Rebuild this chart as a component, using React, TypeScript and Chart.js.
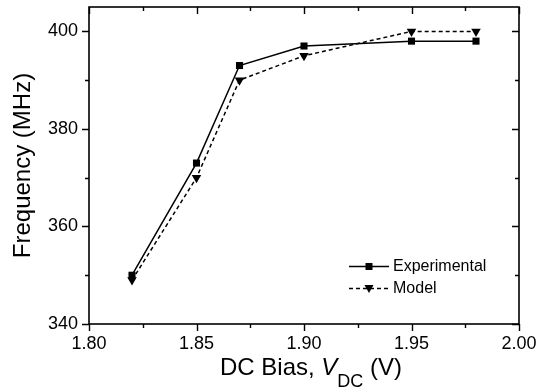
import React, { useEffect, useRef } from 'react';
import { Chart, registerables } from 'chart.js';

Chart.register(...registerables);

const biasV = [1.82, 1.85, 1.87, 1.9, 1.95, 1.98];
const experimentalMHz = [350, 373, 393, 397, 398, 398];
const modelMHz = [349, 370, 390, 395, 400, 400];
const xTickValues = [1.8, 1.85, 1.9, 1.95, 2.0];
const yTickValues = [340, 360, 380, 400];
const legendLabels = ['Experimental', 'Model'];
const yTitle = 'Frequency (MHz)';

const FONT = '"Liberation Sans", Arial, Helvetica, sans-serif';

const framePlugin = {
  id: 'frameTicks',
  afterDraw(chart: any) {
    const { ctx, chartArea, scales } = chart;
    const { left, right, top, bottom } = chartArea;
    const xs = scales.x;
    const ys = scales.y;
    ctx.save();
    ctx.strokeStyle = '#000';
    ctx.lineWidth = 1.6;
    ctx.strokeRect(left, top, right - left, bottom - top);
    ctx.lineWidth = 1.4;
    // x ticks (major 0.05, minor 0.025)
    for (let i = 0; i <= 8; i++) {
      const v = 1.8 + i * 0.025;
      const len = i % 2 === 0 ? 7 : 4;
      const px = Math.round(xs.getPixelForValue(v)) + 0.5;
      ctx.beginPath();
      ctx.moveTo(px, bottom);
      ctx.lineTo(px, bottom + len);
      ctx.moveTo(px, top);
      ctx.lineTo(px, top + len);
      ctx.stroke();
    }
    for (let i = 0; i <= 6; i++) {
      const v = 340 + i * 10;
      const len = i % 2 === 0 ? 7 : 4;
      const py = Math.round(ys.getPixelForValue(v)) + 0.5;
      ctx.beginPath();
      ctx.moveTo(left - len, py);
      ctx.lineTo(left, py);
      ctx.moveTo(right - len, py);
      ctx.lineTo(right, py);
      ctx.stroke();
    }

    // x title with italic V and subscript DC
    ctx.fillStyle = '#000';
    ctx.textBaseline = 'alphabetic';
    ctx.textAlign = 'left';
    let tx = 220;
    const base = 375;
    ctx.font = `24px ${FONT}`;
    ctx.fillText('DC Bias, ', tx, base);
    tx += ctx.measureText('DC Bias, ').width;
    ctx.font = `italic 24px ${FONT}`;
    ctx.fillText('V', tx, base);
    tx += ctx.measureText('V').width;
    ctx.font = `18px ${FONT}`;
    ctx.fillText('DC', tx, base + 12);
    tx += ctx.measureText('DC').width;
    ctx.font = `24px ${FONT}`;
    ctx.fillText(' (V)', tx, base);

    // legend
    const rows = [
      { y: 266, dash: [] as number[], shape: 'rect' },
      { y: 288, dash: [4, 3], shape: 'tri' },
    ];
    rows.forEach((r, idx) => {
      ctx.lineWidth = 1.5;
      ctx.setLineDash(r.dash);
      ctx.beginPath();
      ctx.moveTo(349, r.y + 0.5);
      ctx.lineTo(389, r.y + 0.5);
      ctx.stroke();
      ctx.setLineDash([]);
      ctx.beginPath();
      if (r.shape === 'rect') {
        ctx.rect(369 - 3.5, r.y - 3, 7, 7);
      } else {
        ctx.moveTo(369 - 4.5, r.y - 3);
        ctx.lineTo(369 + 4.5, r.y - 3);
        ctx.lineTo(369, r.y + 5);
        ctx.closePath();
      }
      ctx.fill();
      ctx.font = `16px ${FONT}`;
      ctx.textBaseline = 'middle';
      ctx.fillText(legendLabels[idx], 393, r.y + 1);
    });
    ctx.restore();
  },
};

export default function App() {
  const ref = useRef<HTMLCanvasElement | null>(null);
  useEffect(() => {
    if (!ref.current) return;
    const chart = new Chart(ref.current, {
      type: 'line',
      data: {
        datasets: [
          {
            label: legendLabels[0],
            data: biasV.map((x, i) => ({ x, y: experimentalMHz[i] })),
            borderColor: '#000',
            backgroundColor: '#000',
            borderWidth: 1.5,
            pointStyle: 'rect',
            pointRadius: 5,
            pointBorderWidth: 0,
            tension: 0,
          },
          {
            label: legendLabels[1],
            data: biasV.map((x, i) => ({ x, y: modelMHz[i] })),
            borderColor: '#000',
            backgroundColor: '#000',
            borderWidth: 1.5,
            borderDash: [4, 3],
            pointStyle: 'triangle',
            pointRotation: 180,
            pointRadius: 5.5,
            pointBorderWidth: 0,
            tension: 0,
          },
        ],
      },
      options: {
        responsive: false,
        animation: false,
        layout: { padding: { top: 7, right: 19, left: 0, bottom: 0 } },
        plugins: { legend: { display: false }, tooltip: { enabled: false } },
        scales: {
          x: {
            type: 'linear',
            min: 1.8,
            max: 2.0,
            afterBuildTicks: (s: any) => {
              s.ticks = xTickValues.map((v) => ({ value: v }));
            },
            ticks: {
              callback: (v: any) => Number(v).toFixed(2),
              font: { family: FONT, size: 18 },
              color: '#000',
              padding: 9,
              maxRotation: 0,
              autoSkip: false,
            },
            grid: { display: false, drawTicks: false },
            border: { display: false },
            afterFit: (s: any) => {
              s.height = 66;
              s.paddingLeft = 0;
              s.paddingRight = 0;
            },
          },
          y: {
            type: 'linear',
            min: 340,
            max: 405,
            afterBuildTicks: (s: any) => {
              s.ticks = yTickValues.map((v) => ({ value: v }));
            },
            ticks: {
              callback: (v: any) => String(v),
              font: { family: FONT, size: 18 },
              color: '#000',
              padding: 11,
              autoSkip: false,
            },
            title: {
              display: true,
              text: yTitle,
              color: '#000',
              font: { family: FONT, size: 24 },
              padding: { top: 9, bottom: 0 },
            },
            grid: { display: false, drawTicks: false },
            border: { display: false },
            afterFit: (s: any) => {
              s.width = 89;
              s.paddingTop = 0;
              s.paddingBottom = 0;
            },
          },
        },
      },
      plugins: [framePlugin],
    } as any);
    return () => chart.destroy();
  }, []);
  return (
    <div style={{ position: 'absolute', left: 0, top: 0, width: 538, height: 390, background: '#fff' }}>
      <canvas ref={ref} width={538} height={390} style={{ display: 'block' }} />
    </div>
  );
}
